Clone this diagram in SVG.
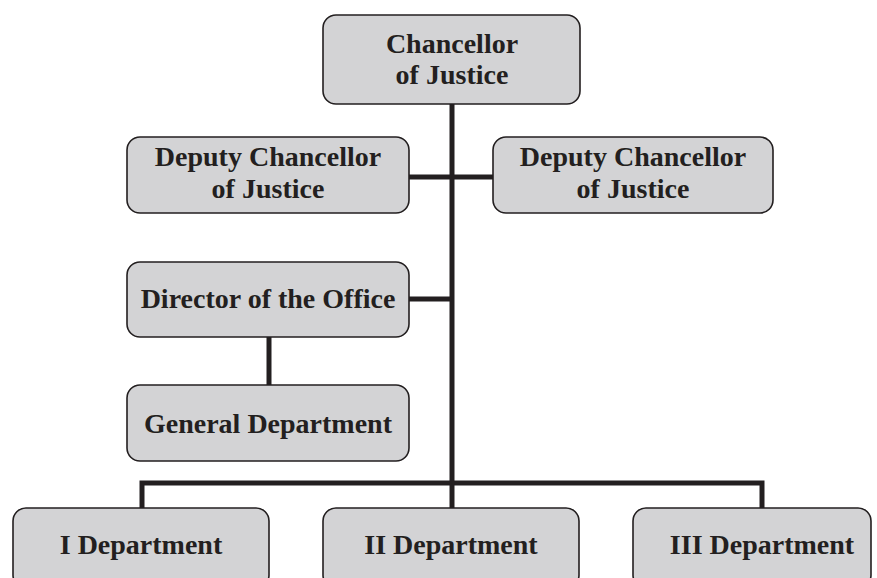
<svg xmlns="http://www.w3.org/2000/svg" width="877" height="578" viewBox="0 0 877 578">
<style>
.box{fill:#d3d3d5;stroke:#231f20;stroke-width:1.6}
.t{font-family:"Liberation Serif","Times New Roman",serif;font-weight:bold;font-size:28px;fill:#231f20;text-anchor:middle}
.c{stroke:#231f20;stroke-width:5;fill:none}
</style>
<rect width="877" height="578" fill="#fff"/>
<g id="connectors">
<line class="c" x1="452" y1="104" x2="452" y2="483"/>
<line class="c" x1="409" y1="177" x2="493" y2="177"/>
<line class="c" x1="409" y1="299" x2="452" y2="299"/>
<line class="c" x1="269" y1="337" x2="269" y2="385"/>
<polyline class="c" points="142,508 142,483 762,483 762,508"/>
<line class="c" x1="452" y1="483" x2="452" y2="508"/>
</g>
<g id="chancellor"><rect class="box" x="323" y="15" width="257" height="89" rx="13"/><text class="t" x="452" y="53">Chancellor</text><text class="t" x="452" y="84">of Justice</text></g>
<g id="deputy-left"><rect class="box" x="127" y="137" width="282" height="76" rx="13"/><text class="t" x="268" y="166">Deputy Chancellor</text><text class="t" x="268" y="198">of Justice</text></g>
<g id="deputy-right"><rect class="box" x="493" y="137" width="280" height="76" rx="13"/><text class="t" x="633" y="166">Deputy Chancellor</text><text class="t" x="633" y="198">of Justice</text></g>
<g id="director"><rect class="box" x="127" y="262" width="282" height="75" rx="13"/><text class="t" x="268" y="308">Director of the Office</text></g>
<g id="general"><rect class="box" x="127" y="385" width="282" height="76" rx="13"/><text class="t" x="268" y="433">General Department</text></g>
<g id="dept1"><rect class="box" x="13" y="508" width="256" height="80" rx="13"/><text class="t" x="141" y="554">I Department</text></g>
<g id="dept2"><rect class="box" x="323" y="508" width="256" height="80" rx="13"/><text class="t" x="451" y="554">II Department</text></g>
<g id="dept3"><rect class="box" x="633" y="508" width="238" height="80" rx="13"/><text class="t" x="762" y="554">III Department</text></g>
</svg>
